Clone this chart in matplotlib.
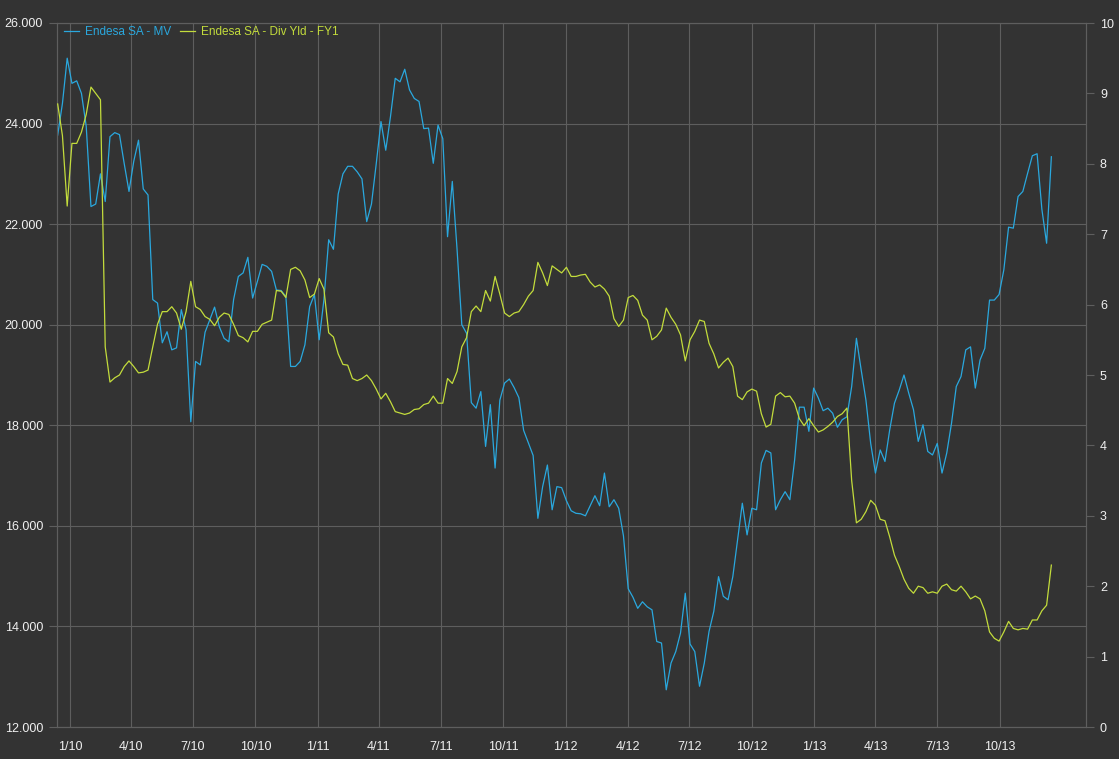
import matplotlib
matplotlib.use("Agg")
import matplotlib.pyplot as plt
import matplotlib.dates as mdates
from matplotlib.ticker import FuncFormatter, FixedLocator
import pandas as pd

# ---------------- data ----------------
start_date = "2009-12-14"
n_weeks = 210

mv = [
    23770, 24400, 25300, 24800, 24850, 24600, 23950, 22350, 22400, 23000,
    22450, 23740, 23820, 23780, 23200, 22650, 23250, 23670, 22700, 22580,
    20500, 20430, 19640, 19860, 19500, 19540, 20300, 19900, 18070, 19270,
    19200, 19850, 20100, 20350, 19960, 19730, 19660, 20500, 20960, 21030,
    21340, 20530, 20860, 21200, 21160, 21060, 20690, 20680, 20560, 19170,
    19170, 19270, 19600, 20360, 20600, 19700, 20500, 21690, 21500, 22600,
    23000, 23150, 23150, 23040, 22900, 22050, 22400, 23200, 24040, 23470,
    24140, 24900, 24830, 25080, 24670, 24500, 24440, 23900, 23910, 23210,
    23970, 23700, 21750, 22850, 21500, 20000, 19830, 18450, 18340, 18670,
    17580, 18410, 17150, 18500, 18840, 18920, 18750, 18550, 17900, 17650,
    17400, 16150, 16780, 17210, 16320, 16780, 16760, 16500, 16300, 16250,
    16240, 16200, 16400, 16600, 16400, 17050, 16380, 16520, 16350, 15800,
    14750, 14580, 14360, 14490, 14390, 14330, 13700, 13670, 12740, 13270,
    13500, 13870, 14660, 13650, 13500, 12810, 13270, 13900, 14300, 14990,
    14600, 14530, 14990, 15720, 16450, 15820, 16350, 16320, 17250, 17500,
    17450, 16320, 16520, 16680, 16520, 17310, 18360, 18360, 17880, 18740,
    18540, 18290, 18340, 18240, 17960, 18110, 18170, 18770, 19730, 19100,
    18500, 17640, 17050, 17510, 17280, 17910, 18440, 18700, 19000, 18640,
    18310, 17680, 18010, 17480, 17410, 17640, 17050, 17450, 18040, 18770,
    18970, 19500, 19560, 18740, 19300, 19530, 20490, 20490, 20600, 21090,
    21940, 21920, 22550, 22650, 23010, 23360, 23400, 22300, 21620, 23340,
]

div_yld = [
    8.85, 8.4, 7.4, 8.29, 8.29, 8.45, 8.7, 9.09, 9.0, 8.91,
    5.4, 4.9, 4.96, 5.0, 5.12, 5.2, 5.12, 5.03, 5.04, 5.07,
    5.4, 5.72, 5.9, 5.9, 5.97, 5.88, 5.65, 5.9, 6.33, 5.97,
    5.93, 5.83, 5.79, 5.7, 5.82, 5.88, 5.86, 5.72, 5.56, 5.53,
    5.47, 5.62, 5.62, 5.72, 5.75, 5.78, 6.2, 6.19, 6.1, 6.5,
    6.53, 6.48, 6.35, 6.1, 6.15, 6.37, 6.22, 5.6, 5.54, 5.3,
    5.15, 5.14, 4.95, 4.92, 4.95, 5.0, 4.92, 4.8, 4.66, 4.74,
    4.62, 4.48, 4.46, 4.44, 4.46, 4.51, 4.52, 4.58, 4.6, 4.7,
    4.6, 4.6, 4.95, 4.88, 5.05, 5.4, 5.53, 5.9, 5.98, 5.9,
    6.2, 6.05, 6.4, 6.15, 5.88, 5.83, 5.88, 5.9, 6.0, 6.12,
    6.2, 6.6, 6.45, 6.27, 6.55, 6.5, 6.45, 6.53, 6.4, 6.4,
    6.42, 6.43, 6.32, 6.25, 6.28, 6.22, 6.12, 5.8, 5.69, 5.78,
    6.1, 6.13, 6.06, 5.85, 5.78, 5.5, 5.55, 5.64, 5.95, 5.82,
    5.72, 5.57, 5.2, 5.5, 5.62, 5.78, 5.76, 5.45, 5.3, 5.1,
    5.18, 5.24, 5.12, 4.7, 4.65, 4.76, 4.8, 4.77, 4.45, 4.26,
    4.3, 4.7, 4.75, 4.69, 4.7, 4.6, 4.38, 4.28, 4.38, 4.28,
    4.19, 4.22, 4.27, 4.33, 4.41, 4.45, 4.53, 3.5, 2.9, 2.95,
    3.06, 3.22, 3.15, 2.95, 2.93, 2.7, 2.44, 2.28, 2.1, 1.97,
    1.9, 2.0, 1.98, 1.9, 1.92, 1.9, 2.0, 2.03, 1.95, 1.93,
    2.0, 1.92, 1.82, 1.86, 1.82, 1.65, 1.35, 1.26, 1.22, 1.35,
    1.5, 1.4, 1.38, 1.4, 1.39, 1.52, 1.52, 1.65, 1.73, 2.3,
]

series_names = ["Endesa SA - MV", "Endesa SA - Div Yld - FY1"]
x_tick_dates = pd.date_range("2010-01-01", "2013-10-01", freq="QS")
left_ticks = [12000, 14000, 16000, 18000, 20000, 22000, 24000, 26000]
right_ticks = list(range(0, 11))

# ---------------- style ----------------
BG = "#333333"
GRID = "#5e5e5e"
TXT = "#f0f0f0"
C_MV = "#2aa8de"
C_DY = "#c3dc3c"
plt.rcParams["font.family"] = ["Liberation Sans", "DejaVu Sans"]

dates = pd.date_range(start_date, periods=n_weeks, freq="7D")

fig = plt.figure(figsize=(11.19, 7.59), dpi=100, facecolor=BG)
ax = fig.add_axes([57 / 1119, 32 / 759, (1086 - 57) / 1119, (727 - 23) / 759])
ax.set_facecolor(BG)
ax2 = ax.twinx()

l1, = ax.plot(dates, mv, color=C_MV, lw=0.9, zorder=3)
l2, = ax2.plot(dates, div_yld, color=C_DY, lw=0.9, zorder=3)

ax.set_ylim(12000, 26000)
ax2.set_ylim(0, 10)
ax.set_xlim(pd.Timestamp("2009-12-13"), pd.Timestamp("2014-02-05"))

ax.yaxis.set_major_locator(FixedLocator(left_ticks))
ax.yaxis.set_major_formatter(FuncFormatter(lambda v, p: f"{int(v):,}".replace(",", ".")))
ax2.yaxis.set_major_locator(FixedLocator(right_ticks))
ax2.yaxis.set_major_formatter(FuncFormatter(lambda v, p: f"{int(v)}"))

ax.set_xticks(mdates.date2num(x_tick_dates))
ax.set_xticklabels([f"{d.month}/{d.year % 100:02d}" for d in x_tick_dates])

ax.grid(True, color=GRID, lw=0.8, zorder=0)
ax.set_axisbelow(True)

for a in (ax, ax2):
    for s in a.spines.values():
        s.set_color(GRID)
        s.set_linewidth(0.8)

ax.tick_params(axis="y", colors=GRID, labelcolor=TXT, labelsize=9, length=6, width=0.8, pad=4)
ax.tick_params(axis="x", colors=GRID, labelcolor=TXT, labelsize=9, length=0, pad=10)
ax2.tick_params(axis="y", colors=GRID, labelcolor=TXT, labelsize=9, length=6, width=0.8, pad=4)

leg = ax.legend([l1, l2], series_names, loc="upper left", bbox_to_anchor=(0.0, 1.006),
                frameon=False, ncol=2, fontsize=8.5, handlelength=1.3,
                handletextpad=0.5, columnspacing=0.7, borderaxespad=0.2)
for t, c in zip(leg.get_texts(), [C_MV, C_DY]):
    t.set_color(c)

fig.savefig("out.png", dpi=100, facecolor=BG)
